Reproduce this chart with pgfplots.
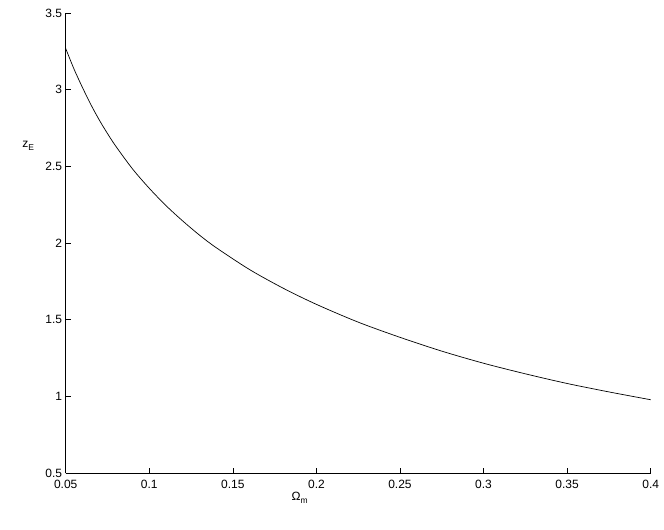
\documentclass[border=0pt]{standalone}
\usepackage{fontspec}
\setmainfont{Liberation Sans}
\usepackage{pgfplots}
\pgfplotsset{compat=1.18}
\begin{document}
\begin{tikzpicture}
\begin{axis}[
  scale only axis, width=585pt, height=460pt,
  xmin=0.05, xmax=0.4, ymin=0.5, ymax=3.5,
  axis x line=bottom, axis y line=left,
  axis line style={-, line width=0.6pt},
  xtick={0.05,0.1,0.15,0.2,0.25,0.3,0.35,0.4},
  ytick={0.5,1,1.5,2,2.5,3,3.5},
  xticklabels={0.05,0.1,0.15,0.2,0.25,0.3,0.35,0.4},
  yticklabels={0.5,1,1.5,2,2.5,3,3.5},
  tick align=inside, major tick length=5.5pt,
  tick style={line width=0.5pt, black},
  ticklabel style={font=\fontsize{12}{14}\selectfont},
  xticklabel style={yshift=-4pt},
  /pgf/number format/assume math mode=true,
  clip=false,
]
\addplot[black, line width=0.7pt, smooth] coordinates {
(0.05,3.269) (0.055,3.134) (0.06,3.015) (0.065,2.904) (0.07,2.804)
(0.075,2.714) (0.08,2.631) (0.09,2.483) (0.10,2.357) (0.11,2.244)
(0.12,2.144) (0.13,2.052) (0.14,1.970) (0.16,1.827) (0.18,1.706)
(0.20,1.600) (0.225,1.484) (0.25,1.385) (0.275,1.295) (0.30,1.216)
(0.325,1.147) (0.35,1.084) (0.375,1.029) (0.40,0.978)
};
\node at (rel axis cs:-0.064,0.711) {\fontsize{12}{14}\selectfont z\raisebox{-0.55ex}{\fontsize{8.5}{10}\selectfont E}};
\node at (rel axis cs:0.40,-0.054) {\fontsize{12}{14}\selectfont Ω\raisebox{-0.55ex}{\fontsize{8.5}{10}\selectfont m}};
\path (rel axis cs:-0.1123,-0.1217) coordinate (bl);
\path (rel axis cs:1.0227,1.0283) coordinate (tr);
\end{axis}
\pgfresetboundingbox
\path[use as bounding box] (bl) rectangle (tr);
\end{tikzpicture}
\end{document}
